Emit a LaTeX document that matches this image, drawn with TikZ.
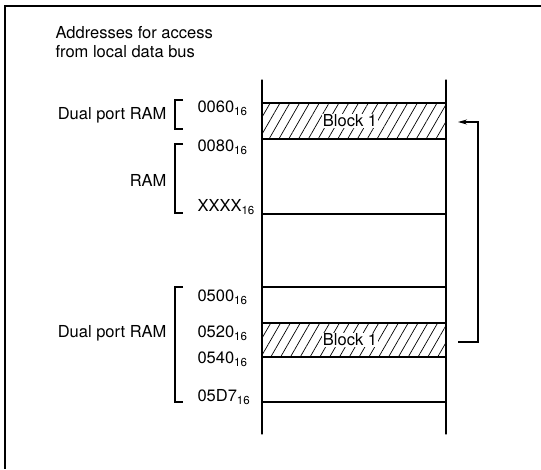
\documentclass[tikz,border=0pt]{standalone}
\usepackage{fontspec}
\setmainfont{TeX Gyre Heros}
\usepackage{tikz}
\usetikzlibrary{calc, arrows.meta, patterns.meta}
\usepackage{tkz-euclide}

\newcommand{\hexaddr}[1]{#1\textsubscript{16}}

\begin{document}
\begin{tikzpicture}[x=1pt, y=-1pt, line width=1.1pt,
        lbl/.style={font=\fontsize{16.5}{19}\selectfont, inner sep=0pt},
        hatched/.style={pattern={Lines[angle=60, distance=8.5pt, line width=0.7pt]}}]
            \useasboundingbox (0,0) rectangle (541,469);
            \tkzDefPoints{262/80/A, 446/80/B, 262/434/A', 446/434/B'}
            \tkzDefPoints{183/100/P, 175/100/Q, 175/129/R, 183/129/S}
            \tkzDefPoints{183/144/P', 175/144/Q', 175/213/R', 183/213/S'}
            \tkzDefPoints{183/287/U, 175/287/V, 175/402/W, 183/402/Z}
            \path[hatched] (262,103) rectangle (446,139);
            \path[hatched] (262,323) rectangle (446,357);
            \draw[line width=1.8pt] (541,6) -- (5,6) -- (5,469);
            \tkzDrawSegments[line width=1.1pt](A,A' B,B')
            \foreach \y in {103,139,214,287,323,357,402}
                \draw (262,\y) -- (446,\y);
            \draw (P) -- (Q) -- (R) -- (S);
            \draw (P') -- (Q') -- (R') -- (S');
            \draw (U) -- (V) -- (W) -- (Z);
            \node[lbl, fill=white, inner sep=0.5pt] (blockA) at (350,121) {Block 1};
            \node[lbl, fill=white, inner sep=0.5pt] (blockB) at (350,340) {Block 1};
            \coordinate (from) at (458,342);
            \coordinate (to) at (458,122);
            \draw[-{Stealth[length=9pt, width=5pt]}] (from) -- ++(20,0) |- (to);
            \node[lbl, anchor=west, align=left] (title) at (55,42) {Addresses for access\\from local data bus};
            \node[lbl, anchor=east] (dualA) at (167,115) {Dual port RAM};
            \node[lbl, anchor=east] (ram) at (167,180) {RAM};
            \node[lbl, anchor=east] (dualB) at (167,333) {Dual port RAM};
            \node[lbl, anchor=west] (a0060) at (197,108) {\hexaddr{0060}};
            \node[lbl, anchor=west] (a0080) at (197,147) {\hexaddr{0080}};
            \node[lbl, anchor=west] (aXXXX) at (197,207) {\hexaddr{XXXX}};
            \node[lbl, anchor=west] (a0500) at (197,297) {\hexaddr{0500}};
            \node[lbl, anchor=west] (a0520) at (197,333) {\hexaddr{0520}};
            \node[lbl, anchor=west] (a0540) at (197,359) {\hexaddr{0540}};
            \node[lbl, anchor=west] (a05D7) at (197,397) {\hexaddr{05D7}};
        \end{tikzpicture}
\end{document}
